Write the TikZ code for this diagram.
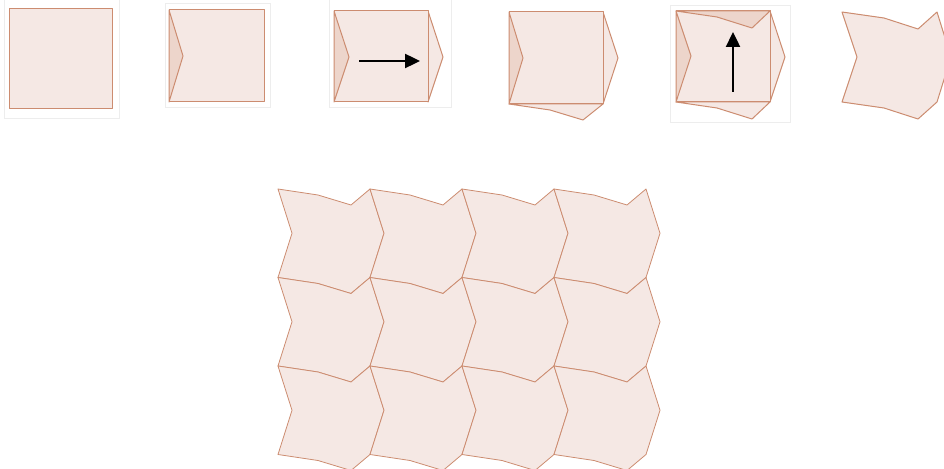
\documentclass[tikz,border=0pt]{standalone}
\usepackage{tikz}
\usetikzlibrary{arrows.meta}

\definecolor{tilefill}{RGB}{245,232,228}
\definecolor{tileedge}{RGB}{204,140,112}
\definecolor{notchfill}{RGB}{237,213,203}

\begin{document}
\begin{tikzpicture}[x=1pt,y=-1pt,
  tile/.style={fill=tilefill,draw=tileedge,line width=1pt,line join=round},
  flat/.style={fill=tilefill,draw=tileedge,line width=0.8pt,line join=round},
  notch/.style={fill=notchfill,draw=tileedge,line width=1pt,line join=round},
  frame/.style={fill=white,draw=black!7,line width=0.6pt},
  move/.style={-{Triangle[length=15pt,width=14pt]},line width=2.4pt,black}]

  \clip (0,0) rectangle (944,468);
  \useasboundingbox (0,0) rectangle (944,468);

  % ROW: construction steps
  % Step 1: square
  \draw[frame] (4,-2) rectangle (119,118);
  \draw[tile] (9,9) rectangle (112,109);

  % Step 2: notch on the left
  \draw[frame] (165,3) rectangle (270,107);
  \draw[tile] (169,10) rectangle (264,102);
  \draw[notch] (169,10) -- (183,56) -- (169,102) -- cycle;

  % Step 3: notch moved to the right
  \draw[frame] (329,-2) rectangle (451,107);
  \draw[tile] (428,11) -- (443,57) -- (428,102) -- cycle;
  \draw[tile] (334,11) rectangle (428,102);
  \draw[notch] (334,11) -- (349,57) -- (334,102) -- cycle;
  \coordinate (h0) at (359,61);
  \coordinate (h1) at (420,61);
  \draw[move] (h0) -- (h1);

  % Step 4: curve on the bottom
  \draw[tile] (509,104) -- (550,110) -- (583,120) -- (603,104) -- cycle;
  \draw[tile] (603,12) -- (618,58) -- (603,104) -- cycle;
  \draw[tile] (509,12) rectangle (603,104);
  \draw[notch] (509,12) -- (523,58) -- (509,104) -- cycle;

  % Step 5: curve cut from the top
  \draw[frame] (670,5) rectangle (790,122);
  \draw[tile] (676,102) -- (717,108) -- (752,119) -- (770,102) -- cycle;
  \draw[tile] (770,11) -- (785,57) -- (770,102) -- cycle;
  \draw[tile] (676,11) rectangle (770,102);
  \draw[notch] (676,11) -- (691,56) -- (676,102) -- cycle;
  \draw[notch] (676,11) -- (717,17) -- (752,28) -- (770,11) -- cycle;
  \coordinate (v0) at (733,92);
  \coordinate (v1) at (733,32);
  \draw[move] (v0) -- (v1);

  % Step 6: finished tile
  \draw[tile] (842,12) -- (884,18) -- (918,29) -- (937,12) -- (951,57)
    -- (937,102) -- (918,119) -- (884,108) -- (842,102) -- (857,57) -- cycle;

  % TESSELLATION: 4 x 3 tiles
  \foreach \col in {0,...,3} {
    \foreach \row in {0,...,2} {
      \begin{scope}[shift={(278+92*\col,189+88.5*\row)}]
        \draw[flat] (0,0) -- (40,6) -- (73,16) -- (92,0) -- (106,44.25)
          -- (92,88.5) -- (73,104.5) -- (40,94.5) -- (0,88.5) -- (14,44.25) -- cycle;
      \end{scope}
    }
  }

\end{tikzpicture}
\end{document}
